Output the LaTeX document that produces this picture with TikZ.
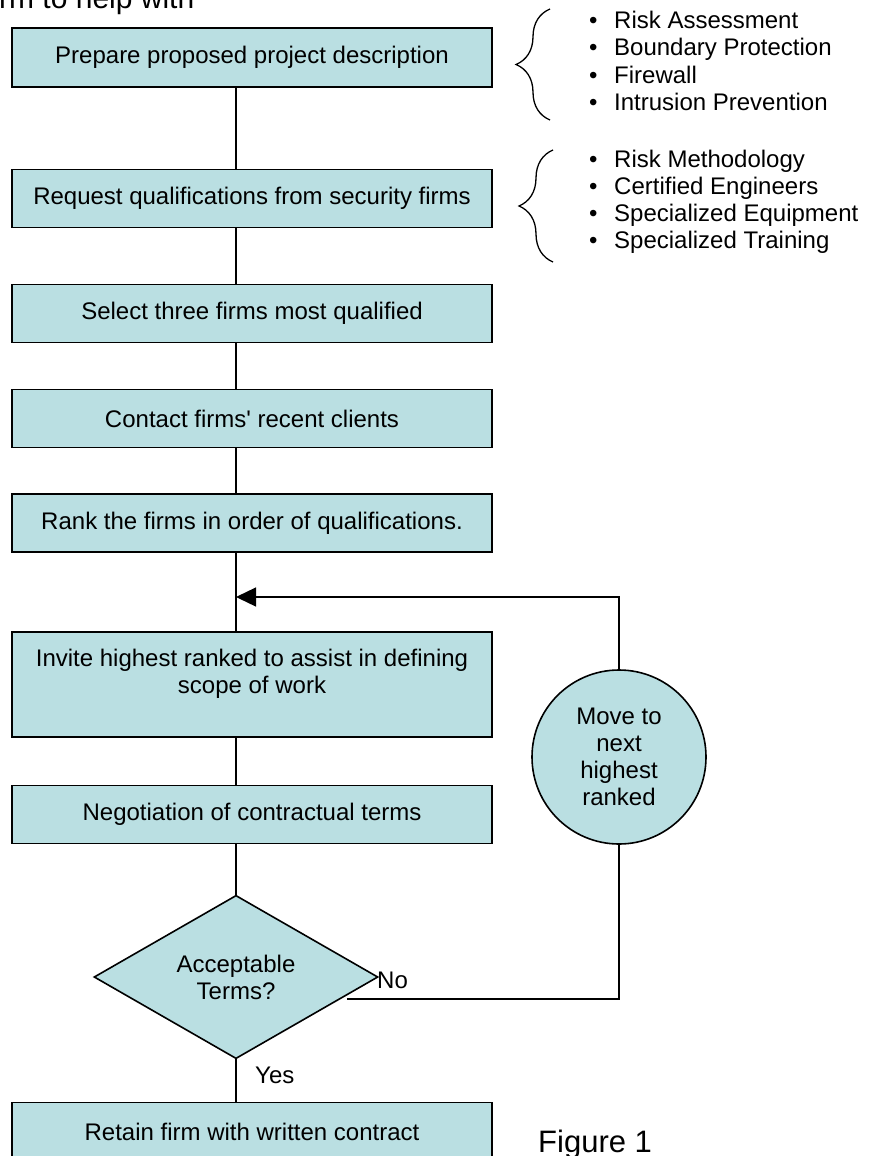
\documentclass[tikz,border=0pt]{standalone}
\usepackage{fontspec}
\setmainfont{Liberation Sans}
\usetikzlibrary{shapes.geometric,arrows.meta,decorations.pathreplacing}
\definecolor{boxfill}{RGB}{186,223,226}
\newcommand\bodyfont{\fontsize{24}{27}\selectfont}
\newcommand\bul{\makebox[25pt][l]{\textbullet}}
\tikzset{
	stepbox/.style={draw,line width=1.6pt,fill=boxfill,rectangle,minimum width=480pt,minimum height=58pt,inner sep=0pt,font=\bodyfont,align=center},
	decision/.style={draw,line width=1.6pt,fill=boxfill,diamond,minimum width=284pt,minimum height=149pt,inner sep=0pt,font=\bodyfont,align=center},
	loopnode/.style={draw,line width=1.6pt,fill=boxfill,circle,minimum size=174pt,inner sep=0pt,font=\bodyfont,align=center},
	item/.style={anchor=base west,inner sep=0pt,font=\bodyfont},
	link/.style={line width=1.3pt},
}
\begin{document}
\begin{tikzpicture}[x=1pt,y=-1pt]
		\useasboundingbox (0,0) rectangle (873,1156);
		% cut-off heading
		\node[anchor=base west,inner sep=0pt,font=\fontsize{30}{34}\selectfont] (head) at (-1,9) {rm to help with};
		% main column
		\node[stepbox,minimum height=59pt] (prep) at (252,57.5) {Prepare proposed project description};
		\node[stepbox] (req) at (252,198.5) {Request qualifications from security firms};
		\node[stepbox] (sel) at (252,313.5) {Select three firms most qualified};
		\node[stepbox] (cont) at (252,418.5) {Contact firms\textquotesingle{} recent clients};
		\node[stepbox] (rank) at (252,523) {Rank the firms in order of qualifications.};
		\node[stepbox,minimum height=105pt] (inv) at (252,684.5) {Invite highest ranked to assist in defining\\scope of work\\ \mbox{}};
		\node[stepbox] (neg) at (252,814.5) {Negotiation of contractual terms};
		\node[decision] (dec) at (236,977) {Acceptable\\Terms?};
		\node[stepbox] (ret) at (252,1131.5) {Retain firm with written contract};
		\node[loopnode] (move) at (619,757) {Move to\\next\\highest\\ranked};
		\coordinate (merge) at (236,597);
		\coordinate (nostart) at (347,999);
		% connectors
		\draw[link] (prep.south -| dec) -- (req.north -| dec);
		\draw[link] (req.south -| dec) -- (sel.north -| dec);
		\draw[link] (sel.south -| dec) -- (cont.north -| dec);
		\draw[link] (cont.south -| dec) -- (rank.north -| dec);
		\draw[link] (rank.south -| dec) -- (inv.north -| dec);
		\draw[link] (inv.south -| dec) -- (neg.north -| dec);
		\draw[link] (neg.south -| dec) -- (dec.north);
		\draw[link] (dec.south) -- (ret.north -| dec);
		\draw[link,-{Triangle[length=20pt,width=19pt]}] (move.north) |- (merge);
		\draw[link] (move.south) |- (nostart);
		\node[item] (no) at (377,988) {No};
		\node[item] (yes) at (255,1083) {Yes};
		% side lists
		\foreach \txt [count=\i] in {Risk Assessment,Boundary Protection,Firewall,Intrusion Prevention}
			\node[item] (risk\i) at (589,2+27*\i) {\bul\txt};
		\foreach \txt [count=\i] in {Risk Methodology,Certified Engineers,Specialized Equipment,Specialized Training}
			\node[item] (qual\i) at (589,140+27*\i) {\bul\txt};
		\draw[line width=1.3pt,decorate,decoration={brace,amplitude=34pt}] (550,120) -- (550,9);
		\draw[line width=1.3pt,decorate,decoration={brace,amplitude=34pt}] (553,262) -- (553,150);
		\node[anchor=base west,inner sep=0pt,font=\fontsize{31}{35}\selectfont] (fig) at (538,1152) {Figure 1};
	\end{tikzpicture}
\end{document}
